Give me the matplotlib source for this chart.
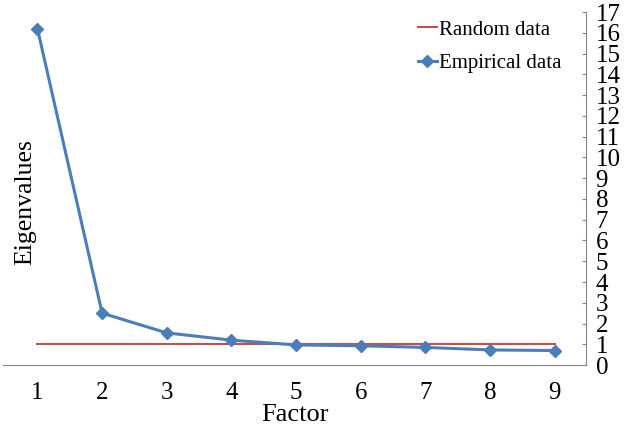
import matplotlib.pyplot as plt
import numpy as np

factors = [1, 2, 3, 4, 5, 6, 7, 8, 9]
empirical = [16.2, 2.5, 1.55, 1.2, 0.97, 0.93, 0.85, 0.73, 0.7]
random_data = [1, 1, 1, 1, 1, 1, 1, 1, 1]

plt.rcParams['font.family'] = ['Liberation Serif', 'DejaVu Serif']

fig = plt.figure(figsize=(6.3, 4.29), dpi=100)
ax = fig.add_axes([0.005, 0.149, 0.925, 0.823])

ax.plot(factors, random_data, color='#C0504D', lw=1.5, label='Random data')
ax.plot(factors, empirical, color='#4A7EBB', lw=2.2, marker='D', markersize=6,
        label='Empirical data')

ax.set_xlim(0.47, 9.48)
ax.set_ylim(0, 17)
ax.set_yticks(np.arange(0, 18, 1))
ax.set_xticks(factors)

ax.yaxis.tick_right()
ax.spines['left'].set_visible(False)
ax.spines['top'].set_visible(False)
ax.spines['right'].set_color('#868686')
ax.spines['bottom'].set_color('#868686')
ax.tick_params(axis='y', direction='in', length=3, color='#868686', labelsize=18, pad=7)
ax.tick_params(axis='x', length=0, labelsize=18, pad=12)

ax.set_xlabel('Factor', fontsize=19, labelpad=0)
fig.text(0.04, 0.53, 'Eigenvalues', rotation=90, fontsize=18.5, ha='center', va='center')

ax.legend(loc='upper right', bbox_to_anchor=(0.99, 1.03), frameon=False, fontsize=15,
          handlelength=0.9, handletextpad=0.1, labelspacing=0.65)

fig.savefig('out.png', dpi=100)
